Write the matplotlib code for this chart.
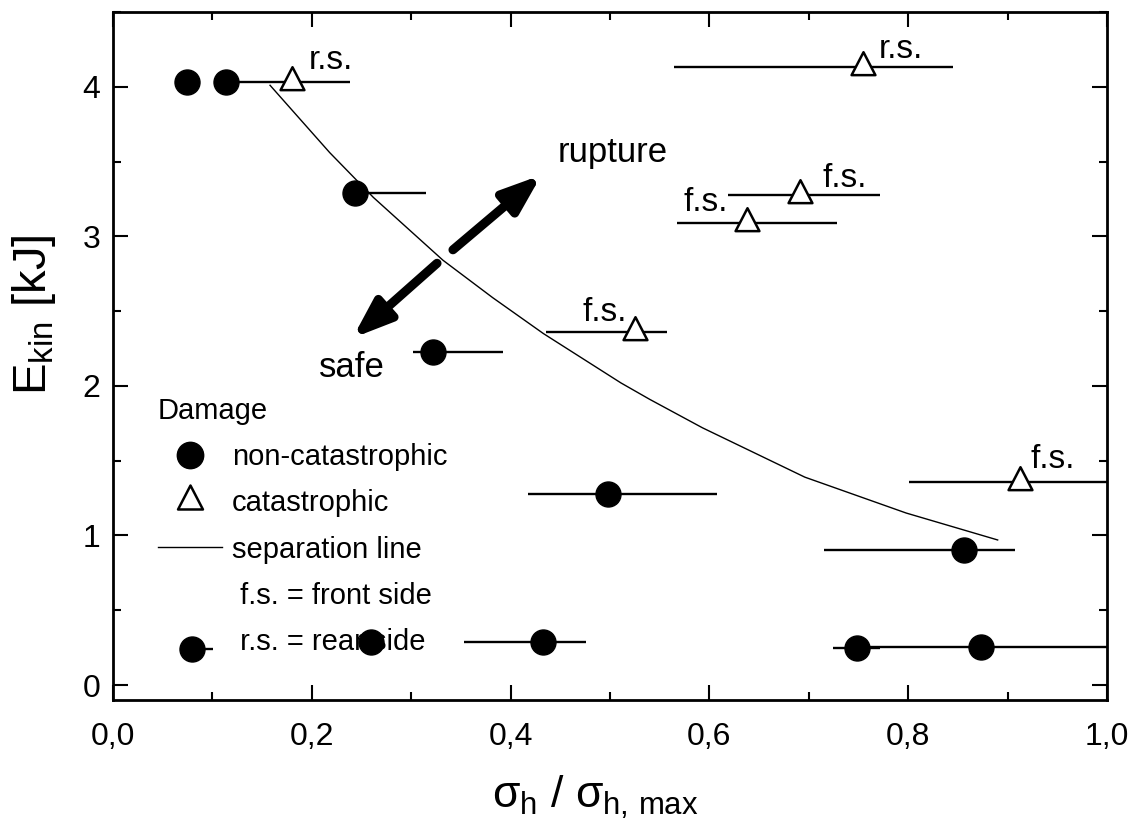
import matplotlib
matplotlib.use("Agg")
import matplotlib.pyplot as plt
from matplotlib.path import Path
from matplotlib.lines import Line2D
from matplotlib.patches import FancyArrowPatch
from matplotlib.ticker import MultipleLocator, FixedLocator, FixedFormatter

plt.rcParams['font.family'] = ['Liberation Sans', 'DejaVu Sans']
plt.rcParams['mathtext.fontset'] = 'custom'
plt.rcParams['mathtext.rm'] = 'Liberation Sans'
plt.rcParams['mathtext.it'] = 'Liberation Sans'
plt.rcParams['mathtext.bf'] = 'Liberation Sans:bold'

# ---------------- data ----------------
# non-catastrophic damage (filled circles)
nc_x = [0.074, 0.114, 0.243, 0.322, 0.498, 0.856, 0.079, 0.260, 0.433, 0.748, 0.873]
nc_y = [4.03, 4.03, 3.29, 2.23, 1.28, 0.90, 0.24, 0.29, 0.29, 0.25, 0.255]
nc_err_lo = [0.0, 0.0, 0.0, 0.020, 0.080, 0.141, 0.0, 0.0, 0.080, 0.024, 0.120]
nc_err_hi = [0.0, 0.0, 0.072, 0.070, 0.110, 0.051, 0.022, 0.0, 0.043, 0.024, 0.130]

# catastrophic damage (open triangles)
cat_x = [0.180, 0.755, 0.691, 0.638, 0.525, 0.912]
cat_y = [4.03, 4.13, 3.275, 3.09, 2.36, 1.36]
cat_err_lo = [0.058, 0.191, 0.072, 0.071, 0.089, 0.111]
cat_err_hi = [0.058, 0.090, 0.081, 0.090, 0.032, 0.090]
cat_labels = ["r.s.", "r.s.", "f.s.", "f.s.", "f.s.", "f.s."]

# separation line
sep_x = [0.158, 0.190, 0.218, 0.262, 0.332, 0.382, 0.433, 0.511, 0.540, 0.593, 0.696, 0.798, 0.890]
sep_y = [4.01, 3.77, 3.56, 3.26, 2.84, 2.59, 2.35, 2.02, 1.91, 1.72, 1.39, 1.15, 0.97]

x_ticks = [0.0, 0.2, 0.4, 0.6, 0.8, 1.0]
x_ticklabels = ["0,0", "0,2", "0,4", "0,6", "0,8", "1,0"]
y_ticks = [0, 1, 2, 3, 4]

legend_title = "Damage"
legend_labels = ["non-catastrophic", "catastrophic", "separation line",
                 " f.s. = front side", " r.s. = rear side"]

# ---------------- styling / layout ----------------
W, H, DPI = 1134, 826, 100
fig = plt.figure(figsize=(W / DPI, H / DPI), dpi=DPI)
ax = fig.add_axes([113 / W, 1 - 700 / H, (1107 - 113) / W, (700 - 12) / H])
ax.set_xlim(0, 1.0)
ax.set_ylim(-0.1, 4.5)

# centroid-centred open triangle (as in Origin)
tri = Path([(0, 2 / 3), (-0.52, -1 / 3), (0.52, -1 / 3), (0, 2 / 3)],
           [Path.MOVETO, Path.LINETO, Path.LINETO, Path.CLOSEPOLY])

# separation line
ax.plot(sep_x, sep_y, color='black', lw=1.0, zorder=2)

# error bars + markers
ax.errorbar(nc_x, nc_y, xerr=[nc_err_lo, nc_err_hi], fmt='none',
            ecolor='black', elinewidth=1.7, capsize=0, zorder=2)
ax.errorbar(cat_x, cat_y, xerr=[cat_err_lo, cat_err_hi], fmt='none',
            ecolor='black', elinewidth=1.7, capsize=0, zorder=2)
ax.plot(nc_x, nc_y, ls='none', marker='o', ms=18, color='black', zorder=6)
ax.plot(cat_x, cat_y, ls='none', marker=tri, ms=22, mfc='white',
        mec='black', mew=1.8, zorder=6)

# labels on triangles (offsets in points)
lab_offsets = [(12, 16, 'left'), (11, 13, 'left'), (16, 12, 'left'),
               (-14, 15, 'right'), (-6, 14, 'right'), (8, 16, 'left')]
for xv, yv, s, (dx, dy, ha) in zip(cat_x, cat_y, cat_labels, lab_offsets):
    ax.annotate(s, (xv, yv), xytext=(dx, dy), textcoords='offset points',
                ha=ha, va='center', fontsize=24, zorder=7)

# rupture / safe arrows
arrow_style = "-|>,head_length=2.3,head_width=0.85"
ax.add_patch(FancyArrowPatch((0.342, 2.91), (0.431, 3.41), arrowstyle=arrow_style,
                             mutation_scale=10, lw=6.5, color='black',
                             shrinkA=0, shrinkB=0, zorder=4))
ax.add_patch(FancyArrowPatch((0.326, 2.82), (0.241, 2.32), arrowstyle=arrow_style,
                             mutation_scale=10, lw=6.5, color='black',
                             shrinkA=0, shrinkB=0, zorder=4))
ax.text(0.447, 3.56, "rupture", fontsize=25, ha='left', va='center')
ax.text(0.274, 2.12, "safe", fontsize=25, ha='right', va='center')

# legend
handles = [
    Line2D([], [], ls='none', marker='o', ms=19, color='black'),
    Line2D([], [], ls='none', marker=tri, ms=23, mfc='white', mec='black', mew=1.8),
    Line2D([], [], color='black', lw=1.0),
    Line2D([], [], ls='none'),
    Line2D([], [], ls='none'),
]
leg = ax.legend(handles, legend_labels, title=legend_title, loc='upper left',
                bbox_to_anchor=(0.045, 0.44), frameon=False, fontsize=21,
                title_fontsize=21, alignment='left', borderpad=0,
                borderaxespad=0, handlelength=2.2, handletextpad=0.35,
                labelspacing=0.62)
leg.set_zorder(3)

# axes styling
for sp in ax.spines.values():
    sp.set_linewidth(2.0)
ax.xaxis.set_major_locator(FixedLocator(x_ticks))
ax.xaxis.set_major_formatter(FixedFormatter(x_ticklabels))
ax.xaxis.set_minor_locator(MultipleLocator(0.1))
ax.yaxis.set_major_locator(FixedLocator(y_ticks))
ax.yaxis.set_minor_locator(MultipleLocator(0.5))
ax.tick_params(which='both', direction='in', top=True, right=True, width=1.5)
ax.tick_params(which='major', length=11)
ax.tick_params(which='minor', length=6)
ax.tick_params(axis='x', which='major', labelsize=23, pad=16)
ax.tick_params(axis='y', which='major', labelsize=23, pad=9)

ax.set_xlabel(r"$\sigma_{\rm h}$ / $\sigma_{\rm h,\,max}$", fontsize=32)
ax.xaxis.set_label_coords(0.485, -0.108)
ax.set_ylabel(r"E$_{\rm kin}$ [kJ]", fontsize=34)
ax.yaxis.set_label_coords(-0.055, 0.56)

fig.savefig("out.png", dpi=DPI)
